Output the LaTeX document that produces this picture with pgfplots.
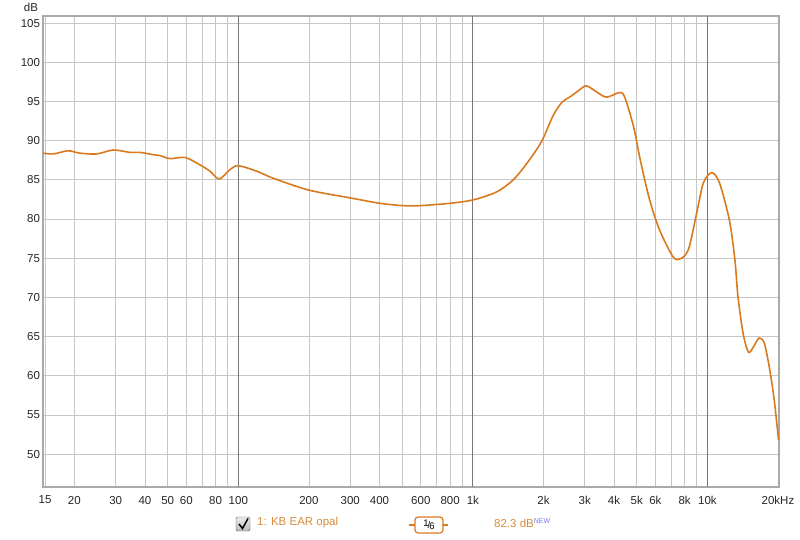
\documentclass[border=0pt]{standalone}
\usepackage{pgfplots}
\pgfplotsset{compat=1.18}
\usepackage{fontspec}
\setmainfont{Liberation Sans}
\definecolor{curve}{RGB}{217,122,30}
\definecolor{legtxt}{RGB}{214,140,60}
\definecolor{gridc}{RGB}{198,198,198}
\definecolor{gridd}{RGB}{120,120,120}
\definecolor{frame}{RGB}{170,170,170}
\definecolor{newblue}{RGB}{120,120,230}

\begin{document}
\fontsize{11.5}{13}\selectfont
\begin{tikzpicture}
\useasboundingbox (-43pt,-52pt) rectangle (757pt,487pt);
\begin{axis}[
  at={(0,0)}, anchor=south west,
  scale only axis, width=736pt, height=471pt,
  xmode=log,
  xmin=14.7, xmax=20200,
  ymin=45.8, ymax=105.9,
  xtick={15,20,30,40,50,60,80,100,200,300,400,600,800,1000,2000,3000,4000,5000,6000,8000,10000,20000},
  xticklabels={15,20,30,40,50,60,80,100,200,300,400,600,800,1k,2k,3k,4k,5k,6k,8k,10k,20kHz},
  minor xtick={70,90,500,700,900,7000,9000},
  ytick={50,55,...,105},
  xmajorgrids, xminorgrids, ymajorgrids,
  grid style={gridc, line width=0.8pt},
  major tick length=0pt, minor tick length=0pt,
  extra x ticks={100,1000,10000},
  extra x tick labels={},
  extra x tick style={grid=major, major grid style={gridd, line width=0.8pt}},
  axis line style={frame, line width=2pt},
  tick label style={font=\fontsize{11.5}{13}\selectfont, text=black!85},
  /pgf/number format/assume math mode=true,
  xticklabel style={yshift=-5pt},
  yticklabel style={xshift=1pt},
  clip=true,
]
\addplot[curve, line width=1.6pt, smooth] coordinates {
(14.7,88.4)(16.3,88.3)(18.8,88.7)(21.1,88.4)(24.9,88.3)(29.3,88.8)
(34.5,88.5)(38.1,88.5)(43.4,88.2)(46.3,88.1)(51.1,87.7)(59.3,87.85)
(68.7,86.9)(75.7,86.1)(83.0,85.1)(92.2,86.3)(100,86.8)(119.8,86.1)
(141,85.2)(199,83.7)(299,82.7)(402,82.0)(506,81.7)(595,81.7)
(798,82.0)(991,82.4)(1184,83.1)(1306,83.7)(1488,85.0)(1700,87.1)
(1965,89.9)(2200,93.2)(2400,94.9)(2600,95.6)(2800,96.3)(3035,97.0)(3262,96.5)
(3698,95.55)(4176,96.1)(4419,95.7)(4843,91.8)(5172,87.55)(5671,82.45)
(6253,78.6)(7128,75.2)(7643,74.9)(8300,76.1)(9000,80.75)(9612,84.6)
(10440,85.9)(11260,84.6)(12400,79.9)(13100,74.8)(13500,70.1)(14200,65.4)
(14970,63.0)(15730,63.7)(16600,64.8)(17460,64.2)(18340,61.2)(19260,57.0)
(20100,51.8)
};
\end{axis}
% unit label
\node[text=black!85] at (-12pt,480pt) {dB};
% legend row
\shade[top color=gray!15, bottom color=gray!55, draw=gray!70!black, rounded corners=1.5pt]
  (193pt,-44pt) rectangle (207pt,-30pt);
\draw[black, line width=1.5pt] (196pt,-37pt) -- (199.5pt,-41.5pt) -- (205pt,-31.5pt);
\node[anchor=west, text=legtxt, inner sep=0pt] at (214pt,-36pt) {1: KB EAR opal};
\draw[curve, line width=1.2pt] (366pt,-38pt) -- (372pt,-38pt);
\draw[curve, line width=1.2pt] (400pt,-38pt) -- (405pt,-38pt);
\draw[curve, line width=1.2pt, rounded corners=3pt, fill=white] (372pt,-46pt) rectangle (400pt,-30pt);
\node[inner sep=0pt] at (386pt,-38pt) {\fontsize{9.5}{10}\selectfont\raisebox{2pt}{1}\hspace{-1pt}/\hspace{-1pt}\raisebox{-1.5pt}{6}};
\node[anchor=west, text=legtxt, inner sep=0pt] at (451pt,-36pt)
  {82.3 dB\raisebox{4.5pt}{\textcolor{newblue}{\fontsize{7}{8}\selectfont NEW}}};
\end{tikzpicture}
\end{document}
